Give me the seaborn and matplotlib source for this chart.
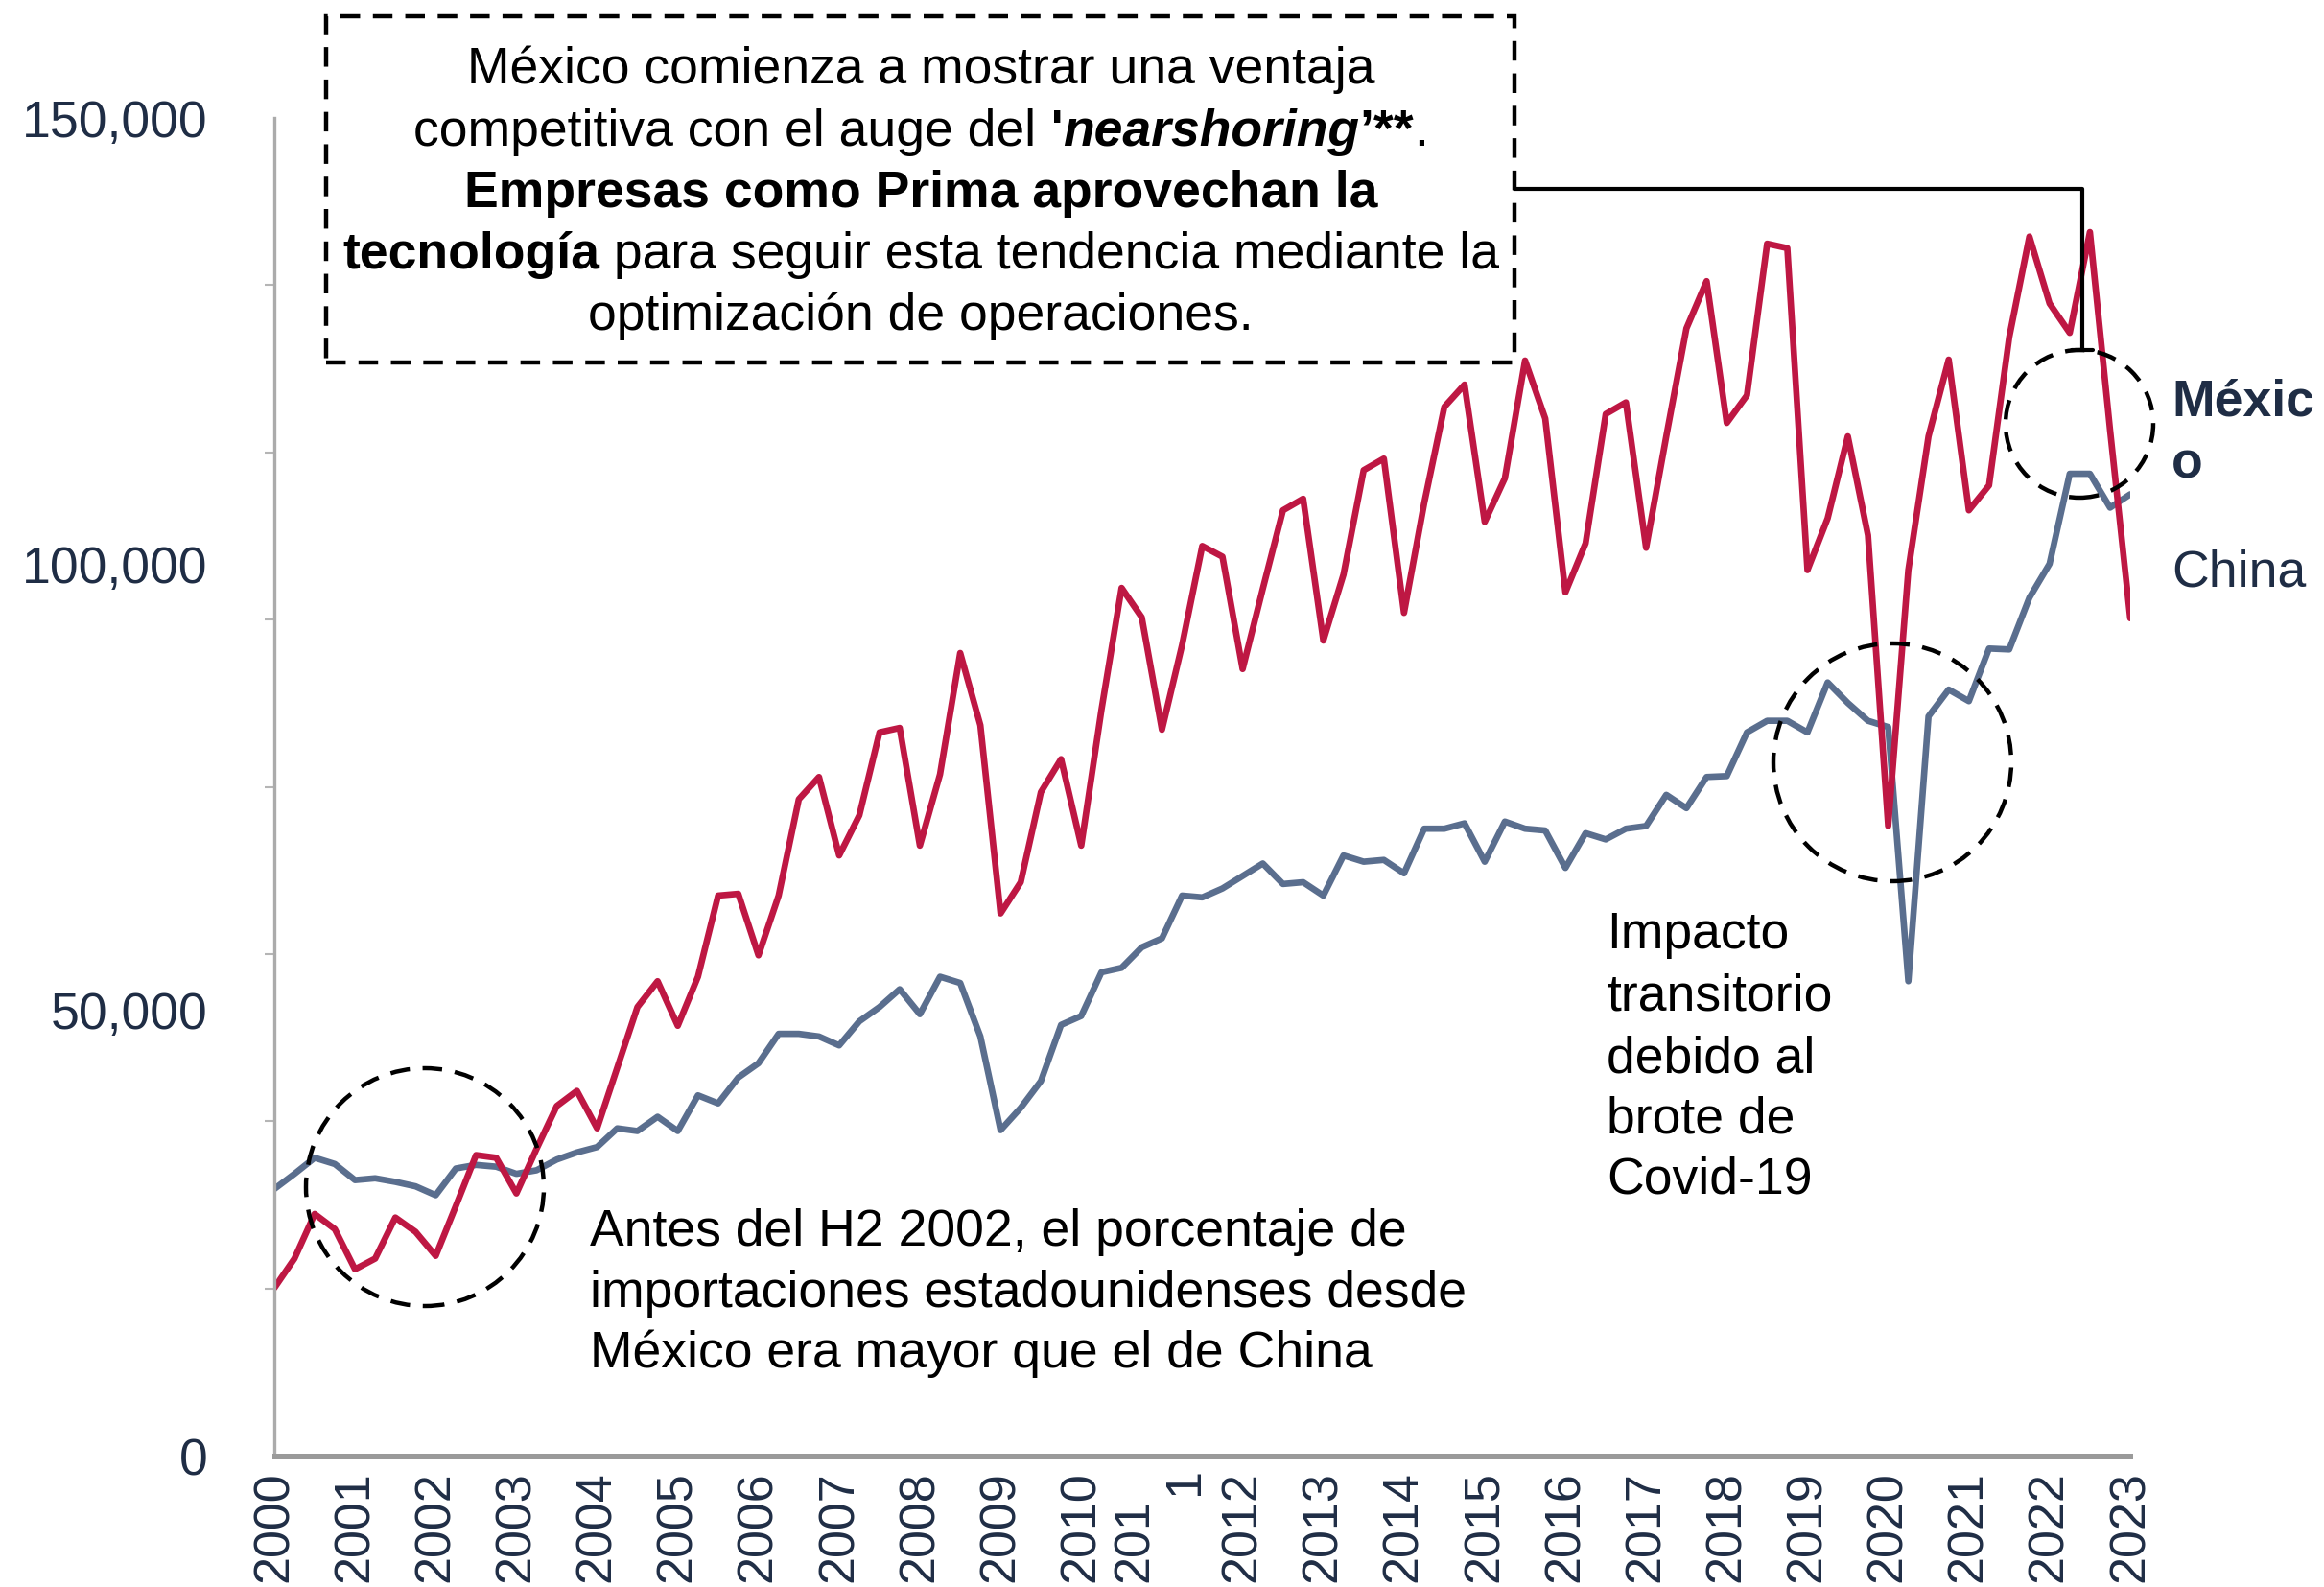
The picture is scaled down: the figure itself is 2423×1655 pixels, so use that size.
import matplotlib
matplotlib.use("Agg")
import matplotlib.pyplot as plt
import matplotlib.patches as mpatches
from matplotlib.lines import Line2D
from matplotlib.offsetbox import TextArea, HPacker, AnnotationBbox
import numpy as np
import pandas as pd
import seaborn as sns

# importaciones trimestrales de EE.UU. (miles)
china = [18.8, 22.1, 27.1, 25.4,
         20.9, 22.1, 26.7, 25.1,
         22.4, 28.0, 33.7, 33.4,
         29.4, 34.4, 39.2, 40.9,
         36.7, 43.5, 50.3, 53.2,
         48.2, 53.7, 62.8, 63.0,
         56.1, 62.8, 73.6, 76.1,
         67.3, 71.8, 81.1, 81.6,
         68.4, 76.4, 90.0, 81.9,
         60.8, 64.3, 74.4, 78.1,
         68.4, 83.6, 97.3, 94.0,
         81.4, 90.9, 102.0, 100.8,
         88.2, 97.2, 106.0, 107.3,
         91.4, 98.8, 110.5, 111.8,
         94.5, 106.8, 117.6, 120.1,
         104.7, 109.6, 122.8, 116.3,
         96.8, 102.3, 116.8, 118.1,
         101.8, 114.3, 126.4, 131.7,
         115.8, 118.9, 135.9, 135.4,
         99.3, 105.1, 114.3, 103.2,
         70.6, 99.3, 114.3, 122.9,
         106.0, 108.8, 125.4, 136.7,
         129.2, 125.9, 137.2, 115.0,
         93.9]

mexico = [29.9, 31.6, 33.4, 32.7,
          30.9, 31.1, 30.7, 30.2,
          29.2, 32.2, 32.6, 32.4,
          31.6, 32.0, 33.2, 34.0,
          34.6, 36.7, 36.4, 38.0,
          36.4, 40.4, 39.5, 42.4,
          44.0, 47.3, 47.3, 47.0,
          46.0, 48.7, 50.3, 52.3,
          49.5, 53.7, 53.0, 47.0,
          36.5, 39.0, 42.0, 48.3,
          49.3, 54.2, 54.7, 57.0,
          58.0, 62.8, 62.6, 63.6,
          65.0, 66.4, 64.1, 64.3,
          62.8, 67.3, 66.6, 66.8,
          65.3, 70.3, 70.3, 70.9,
          66.6, 71.1, 70.3, 70.1,
          65.9, 69.8, 69.1, 70.3,
          70.6, 74.1, 72.6, 76.1,
          76.2, 81.1, 82.4, 82.4,
          81.1, 86.7, 84.4, 82.4,
          81.7, 53.2, 82.9, 85.9,
          84.6, 90.5, 90.4, 96.2,
          100.0, 110.1, 110.1, 106.3,
          107.8]

quarters = np.arange(2000, 2023.01, 0.25)

year_ticks = list(range(2000, 2024))
year_labels = [str(y) for y in year_ticks]
year_labels[11] = '201\n      1'

ytick_vals = [0, 50000, 100000, 150000]
ytick_labels = ['0', '50,000', '100,000', '150,000']
minor_vals = np.arange(0, 150001, 18750)

RED = '#BE1743'
BLUE = '#5A6E8E'
NAVY = '#1F2D45'
FS = 38.5

sns.set_style('white')
plt.rcParams['font.family'] = ['Liberation Sans', 'DejaVu Sans']

W, H = 2423, 1656
fig = plt.figure(figsize=(W / 100, H / 100), dpi=100)
ax = fig.add_axes([286 / W, 1 - 1519 / H, (2221 - 286) / W, (1519 - 124) / H])

df = pd.DataFrame({
    'year': np.concatenate([quarters, quarters]),
    'valor': np.concatenate([mexico, china]) * 1000,
    'pais': ['México'] * len(quarters) + ['China'] * len(quarters),
})
sns.lineplot(data=df, x='year', y='valor', hue='pais', hue_order=['México', 'China'],
             palette=[BLUE, RED], linewidth=4.8, legend=False, errorbar=None, ax=ax)

ax.set_xlim(2000, 2023)
ax.set_ylim(0, 150000)
ax.set_xlabel('')
ax.set_ylabel('')
ax.set_xticks(year_ticks)
ax.set_xticklabels(year_labels, rotation=90, fontsize=37.5, color=NAVY,
                   ha='center', va='top', multialignment='left')
ax.set_yticks(ytick_vals)
ax.set_yticklabels(ytick_labels, fontsize=FS, color=NAVY)
ax.set_yticks(minor_vals, minor=True)
ax.tick_params(axis='x', length=0, pad=11)
ax.tick_params(axis='y', which='major', length=0, pad=50)
ax.tick_params(axis='y', which='minor', left=True, length=7, width=1.5, color='#B5B5B5')
for s in ['top', 'right']:
    ax.spines[s].set_visible(False)
ax.spines['left'].set_color('#ABABAB')
ax.spines['left'].set_linewidth(2.4)
ax.spines['bottom'].set_color('#9A9A9A')
ax.spines['bottom'].set_linewidth(3.6)

tr = fig.dpi_scale_trans


def fpx(x, y):
    # pixel from top-left -> inches from bottom-left
    return (x / 100, (H - y) / 100)


dash = (0, (4.6, 3.0))
DLW = 3.2

# caja punteada
box = mpatches.Rectangle(fpx(340, 379), (1579 - 340) / 100, (379 - 18) / 100, transform=tr,
                         fill=False, ec='black', lw=DLW, ls=dash)
fig.add_artist(box)

box_lines = [
    [('México comienza a mostrar una ventaja', 'normal', 'normal')],
    [('competitiva con el auge del', 'normal', 'normal'), (" '", 'bold', 'normal'),
     ('nearshoring', 'bold', 'italic'), ('’**', 'bold', 'normal'), ('.', 'normal', 'normal')],
    [('Empresas como Prima aprovechan la', 'bold', 'normal')],
    [('tecnología', 'bold', 'normal'), (' para seguir esta tendencia mediante la', 'normal', 'normal')],
    [('optimización de operaciones.', 'normal', 'normal')],
]
box_ys = [73, 138, 202, 266, 330]
for parts, y in zip(box_lines, box_ys):
    areas = [TextArea(t, textprops=dict(fontsize=FS, fontweight=w, fontstyle=st, color='black'))
             for t, w, st in parts]
    pack = HPacker(children=areas, align='baseline', pad=0, sep=0)
    ab = AnnotationBbox(pack, fpx(960, y), xycoords=tr, box_alignment=(0.5, 0.5),
                        frameon=False, pad=0)
    fig.add_artist(ab)

# conector
fig.add_artist(Line2D([15.79, 21.71, 21.71], [(H - 198) / 100, (H - 198) / 100, (H - 366) / 100],
                      transform=tr, color='black', lw=3.0))
fig.add_artist(Line2D([21.60, 21.82], [(H - 366) / 100] * 2, transform=tr, color='black', lw=3.0))

# circulos
for cx, cy, r in [(443, 1239, 124), (1973, 796, 124), (2168, 443, 77)]:
    c = mpatches.Circle(fpx(cx, cy), r / 100, transform=tr, fill=False, ec='black', lw=DLW, ls=dash)
    fig.add_artist(c)

# textos
antes = ['Antes del H2 2002, el porcentaje de',
         'importaciones estadounidenses desde',
         'México era mayor que el de China']
for s, y in zip(antes, [1280, 1343, 1406]):
    fig.text(615 / W, 1 - y / H, s, fontsize=FS, color='black', ha='left', va='center_baseline')

covid = ['Impacto', 'transitorio', 'debido al', 'brote de', 'Covid-19']
for s, y in zip(covid, [970, 1034, 1099, 1162, 1225]):
    fig.text(1675 / W, 1 - y / H, s, fontsize=FS, color='black', ha='left', va='center_baseline')

fig.text(2264 / W, 1 - 414 / H, 'Méxic', fontsize=FS, color=NAVY, fontweight='bold',
         ha='left', va='center_baseline')
fig.text(2264 / W, 1 - 479 / H, 'o', fontsize=FS, color=NAVY, fontweight='bold',
         ha='left', va='center_baseline')
fig.text(2264 / W, 1 - 592 / H, 'China', fontsize=FS, color=NAVY,
         ha='left', va='center_baseline')

fig.savefig('out.png', dpi=100)
